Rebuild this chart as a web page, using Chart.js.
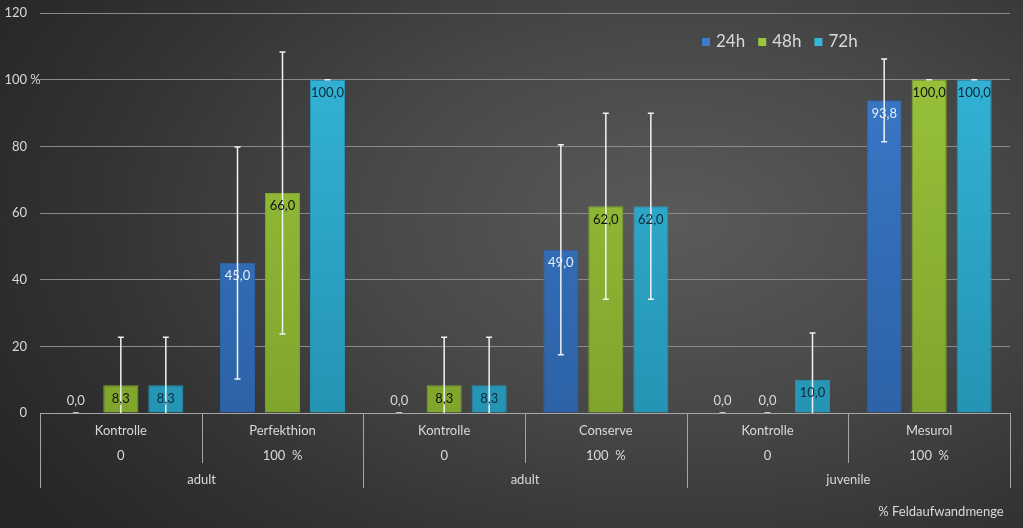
<!DOCTYPE html>
<html>
<head>
<meta charset="utf-8">
<script src="https://cdn.jsdelivr.net/npm/chart.js@4.4.0/dist/chart.umd.min.js"></script>
<style>
  body { margin: 0; background: #2b2b2b; }
  #wrap {
    width: 1023px; height: 528px;
    background: radial-gradient(ellipse 75% 90% at 66% 42%, #5a5a5a 0%, #484848 40%, #333333 75%, #272727 100%);
  }
</style>
</head>
<body>
<div id="wrap"><canvas id="chart" width="1023" height="528"></canvas></div>
<script>
// values
const categories = ['Kontrolle', 'Perfekthion', 'Kontrolle', 'Conserve', 'Kontrolle', 'Mesurol'];
const doses = ['0', '100  %', '0', '100  %', '0', '100  %'];
const stages = ['adult', 'adult', 'juvenile'];
const axisTitle = '% Feldaufwandmenge';
const yTicks = [0, 20, 40, 60, 80, 100, 120];

const series = ['24h', '48h', '72h'];
const values24 = [0, 45.0, 0, 49.0, 0, 93.8];
const values48 = [8.3, 66.0, 8.3, 62.0, 0, 100.0];
const values72 = [8.3, 100.0, 8.3, 62.0, 10.0, 100.0];
const err24 = [0, 34.8, 0, 31.5, 0, 12.4];
const err48 = [14.4, 42.3, 14.4, 27.9, 0, 0];
const err72 = [14.4, 0, 14.4, 27.9, 14, 0];

const colors = ['#3b7bcc', '#9cc63c', '#35b7db'];
const darker = ['#2d62a6', '#7fa52c', '#2594b4'];
const labelColors = ['#e6edf7', '#111111', '#0d2a36'];
const errs = [err24, err48, err72];

const FONT = 'Lato, "Open Sans", sans-serif';

function fmt(v) {
    return v.toFixed(1).replace('.', ',');
}

// bars with a light vertical shading like the original
function barFill(i) {
    return function (context) {
        const chart = context.chart;
        const area = chart.chartArea;
        if (!area) return colors[i];
        const g = chart.ctx.createLinearGradient(0, area.top, 0, area.bottom);
        g.addColorStop(0, colors[i]);
        g.addColorStop(1, darker[i]);
        return g;
    };
}

const extras = {
    id: 'extras',
    afterDatasetsDraw(chart) {
        const ctx = chart.ctx;
        const y = chart.scales.y;
        ctx.save();

        // error bars
        chart.data.datasets.forEach((ds, di) => {
            const meta = chart.getDatasetMeta(di);
            meta.data.forEach((bar, i) => {
                const v = ds.data[i];
                const e = errs[di][i];
                const top = y.getPixelForValue(v + e);
                const bot = y.getPixelForValue(Math.max(0, v - e));
                ctx.strokeStyle = '#f2f2f2';
                ctx.lineWidth = 1.5;
                ctx.beginPath();
                ctx.moveTo(bar.x, top);
                ctx.lineTo(bar.x, bot);
                ctx.moveTo(bar.x - 3, top);
                ctx.lineTo(bar.x + 3, top);
                if (v - e > 0) {
                    ctx.moveTo(bar.x - 3, bot);
                    ctx.lineTo(bar.x + 3, bot);
                }
                ctx.stroke();
            });
        });

        // value labels
        ctx.font = '13px ' + FONT;
        ctx.textAlign = 'center';
        ctx.textBaseline = 'middle';
        chart.data.datasets.forEach((ds, di) => {
            const meta = chart.getDatasetMeta(di);
            meta.data.forEach((bar, i) => {
                const v = ds.data[i];
                if (v === 0) {
                    ctx.fillStyle = '#d9d9d9';
                    ctx.fillText(fmt(v), bar.x, y.getPixelForValue(0) - 12);
                } else {
                    ctx.fillStyle = labelColors[di];
                    ctx.fillText(fmt(v), bar.x, bar.y + 13);
                }
            });
        });
        ctx.restore();
    },
    afterDraw(chart) {
        const ctx = chart.ctx;
        const x = chart.scales.x;
        const y = chart.scales.y;
        const base = y.getPixelForValue(0);
        const n = categories.length;
        const w = (x.right - x.left) / n;
        ctx.save();

        // y tick labels (the 100 carries a % sign)
        ctx.fillStyle = '#d9d9d9';
        ctx.font = '13px ' + FONT;
        ctx.textBaseline = 'middle';
        yTicks.forEach(v => {
            const py = y.getPixelForValue(v);
            ctx.textAlign = 'right';
            ctx.fillText(String(v), 27, py);
            if (v === 100) {
                ctx.textAlign = 'left';
                ctx.fillText(' %', 27, py);
            }
        });

        ctx.strokeStyle = '#a6a6a6';
        ctx.lineWidth = 1;

        // axis line
        ctx.beginPath();
        ctx.moveTo(x.left, base + 0.5);
        ctx.lineTo(x.right, base + 0.5);
        ctx.stroke();

        // separators
        for (let i = 0; i <= n; i++) {
            const px = Math.round(x.left + i * w) + 0.5;
            const len = (i % 2 === 0) ? 75 : 50;
            ctx.beginPath();
            ctx.moveTo(px, base);
            ctx.lineTo(px, base + len);
            ctx.stroke();
        }

        ctx.textAlign = 'center';
        categories.forEach((c, i) => {
            const cx = x.getPixelForValue(i);
            ctx.fillText(c, cx, base + 18);
            ctx.fillText(doses[i], cx, base + 43);
        });
        stages.forEach((s, i) => {
            const cx = x.left + (2 * i + 1) * w;
            ctx.fillText(s, cx, base + 67);
        });
        ctx.fillText(axisTitle, 941, base + 99);

        // legend
        ctx.font = '17px ' + FONT;
        ctx.textAlign = 'left';
        let lx = 702;
        chart.data.datasets.forEach((ds, di) => {
            ctx.fillStyle = colors[di];
            ctx.fillRect(lx, 38, 8, 8);
            ctx.fillStyle = '#d9d9d9';
            ctx.fillText(ds.label, lx + 14, 42);
            lx += 14 + ctx.measureText(ds.label).width + 13;
        });
        ctx.restore();
    }
};

new Chart(document.getElementById('chart'), {
    type: 'bar',
    data: {
        labels: categories,
        datasets: [
            { label: series[0], data: values24, backgroundColor: barFill(0), borderColor: darker[0], borderWidth: 1 },
            { label: series[1], data: values48, backgroundColor: barFill(1), borderColor: darker[1], borderWidth: 1 },
            { label: series[2], data: values72, backgroundColor: barFill(2), borderColor: darker[2], borderWidth: 1 }
        ]
    },
    options: {
        responsive: false,
        animation: false,
        layout: { padding: { top: 13, right: 13, left: 0, bottom: 0 } },
        datasets: { bar: { categoryPercentage: 0.835, barPercentage: 0.78 } },
        plugins: {
            legend: { display: false },
            tooltip: { enabled: false }
        },
        scales: {
            x: {
                grid: { display: false },
                border: { display: false },
                ticks: { display: false },
                afterFit(scale) { scale.height = 115; }
            },
            y: {
                min: 0,
                max: 120,
                afterBuildTicks(scale) { scale.ticks = yTicks.map(v => ({ value: v })); },
                grid: { color: '#8a8a8a', drawTicks: false },
                border: { display: false },
                ticks: { display: false },
                afterFit(scale) { scale.width = 40; }
            }
        }
    },
    plugins: [extras]
});
</script>
</body>
</html>
